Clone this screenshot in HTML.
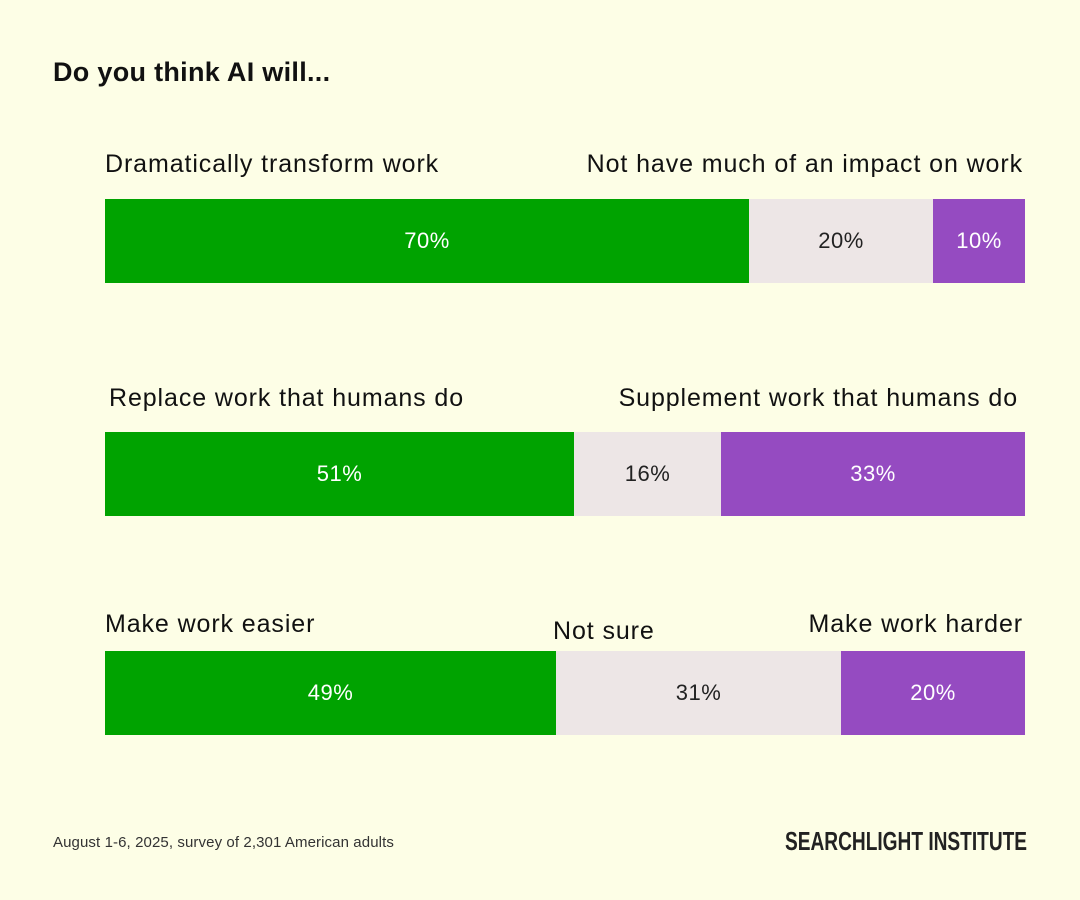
<!DOCTYPE html>
<html><head><style>
body{margin:0;width:1080px;height:900px;background:#fdfee6;position:relative;font-family:"Liberation Sans",sans-serif;color:#111;overflow:hidden}
div{position:absolute}
.t{font-size:25px;letter-spacing:0.9px;white-space:nowrap;line-height:1}
.b{height:84px;display:flex;align-items:center;justify-content:center;font-size:22px;letter-spacing:0.5px}
.g{background:#00a300;color:#fff}.n{background:#ede6e6;color:#222}.p{background:#954bc1;color:#fff}
</style></head><body>
<div style="left:53px;top:57px;font-size:27px;font-weight:bold;letter-spacing:0.3px">Do you think AI will...</div>

<div class="t" style="left:105px;top:152px">Dramatically transform work</div>
<div class="t" style="right:57px;top:152px">Not have much of an impact on work</div>
<div class="b g" style="left:105px;top:199px;width:644px">70%</div>
<div class="b n" style="left:749px;top:199px;width:184px">20%</div>
<div class="b p" style="left:933px;top:199px;width:92px">10%</div>

<div class="t" style="left:109px;top:386px">Replace work that humans do</div>
<div class="t" style="right:62px;top:386px">Supplement work that humans do</div>
<div class="b g" style="left:105px;top:432px;width:469px">51%</div>
<div class="b n" style="left:574px;top:432px;width:147px">16%</div>
<div class="b p" style="left:721px;top:432px;width:304px">33%</div>

<div class="t" style="left:105px;top:612px">Make work easier</div>
<div class="t" style="left:553px;top:619px">Not sure</div>
<div class="t" style="right:57px;top:612px">Make work harder</div>
<div class="b g" style="left:105px;top:651px;width:451px">49%</div>
<div class="b n" style="left:556px;top:651px;width:285px">31%</div>
<div class="b p" style="left:841px;top:651px;width:184px">20%</div>

<div style="left:53px;top:834px;font-size:15px;letter-spacing:0.1px;color:#333">August 1-6, 2025, survey of 2,301 American adults</div>
<div style="left:785px;top:826px;font-size:26px;font-weight:bold;color:#222;transform:scaleX(0.735);transform-origin:left top;white-space:nowrap">SEARCHLIGHT INSTITUTE</div>
</body></html>
